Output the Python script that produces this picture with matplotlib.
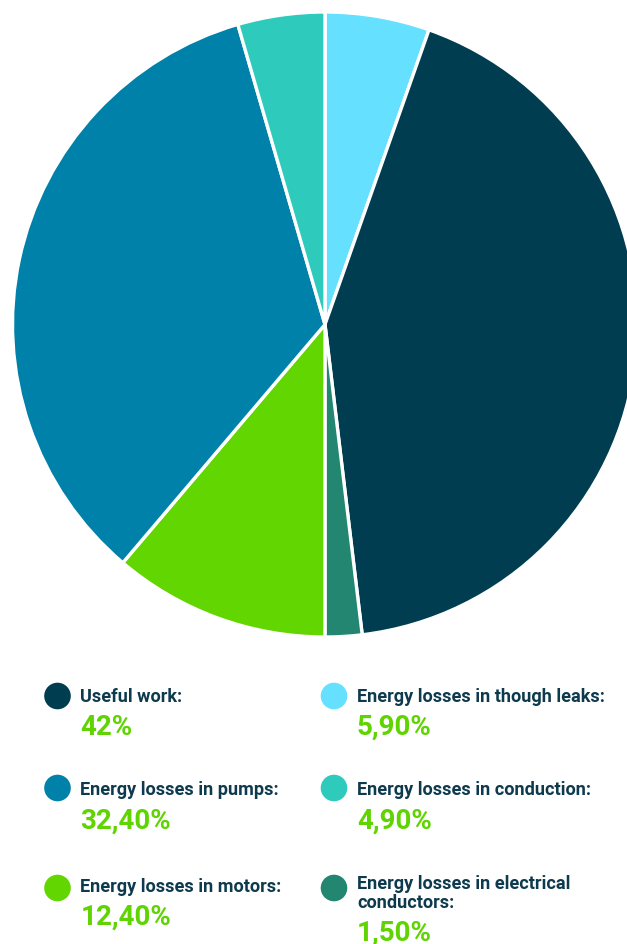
import matplotlib
matplotlib.use("Agg")
import matplotlib.pyplot as plt
from matplotlib.patches import Circle

# ---- data (pie order, clockwise from 12 o'clock) ----
categories = [
    "Energy losses in though leaks:",
    "Useful work:",
    "Energy losses in electrical\nconductors:",
    "Energy losses in motors:",
    "Energy losses in pumps:",
    "Energy losses in conduction:",
]
# slice sizes as drawn in the picture (percent of the circle)
slice_values = [5.4, 42.7, 1.9, 11.2, 34.3, 4.5]
# values printed in the legend
value_labels = ["5,90%", "42%", "1,50%", "12,40%", "32,40%", "4,90%"]
colors = ["#66e0ff", "#003d50", "#228670", "#62d600", "#0081a9", "#2ecbbd"]

# legend reading order (left column, right column per row)
legend_order = [1, 0, 4, 5, 3, 2]

W, H = 627, 944
fig = plt.figure(figsize=(W / 100, H / 100), dpi=100)
ax = fig.add_axes([0, 0, 1, 1])

cx, cy, r = 325, 324.5, 312.5
ax.pie(slice_values, colors=colors, startangle=90, counterclock=False,
       center=(cx, H - cy), radius=r,
       wedgeprops=dict(edgecolor="white", linewidth=2.4))
ax.set_xlim(0, W)
ax.set_ylim(0, H)
ax.set_aspect("auto")
ax.axis("off")

label_color = "#0e3a4e"
pct_color = "#5fd400"
font = ["Roboto", "DejaVu Sans"]

col_x = [57.5, 334]
circle_y = [696, 788, 888]
label_base = [701.7, 795, 891.7]
pct_base = [735, 829, 925]
line_gap = 18.7

for k, idx in enumerate(legend_order):
    col = k % 2
    row = k // 2
    x0 = col_x[col]
    ax.add_patch(Circle((x0, H - circle_y[row]), 13.3, color=colors[idx], lw=0))
    lines = categories[idx].split("\n")
    n = len(lines)
    first_base = label_base[row] - (2.7 if n > 1 else 0)
    for j, line in enumerate(lines):
        ax.text(x0 + 23, H - (first_base + j * line_gap), line, fontsize=13.1,
                fontweight="bold", color=label_color, family=font,
                va="baseline", ha="left")
    pb = pct_base[row] + (n - 1) * 16
    ax.text(x0 + 23, H - pb, value_labels[idx], fontsize=20,
            fontweight="bold", color=pct_color, family=font,
            va="baseline", ha="left")

fig.savefig("out.png", dpi=100, facecolor="white")
